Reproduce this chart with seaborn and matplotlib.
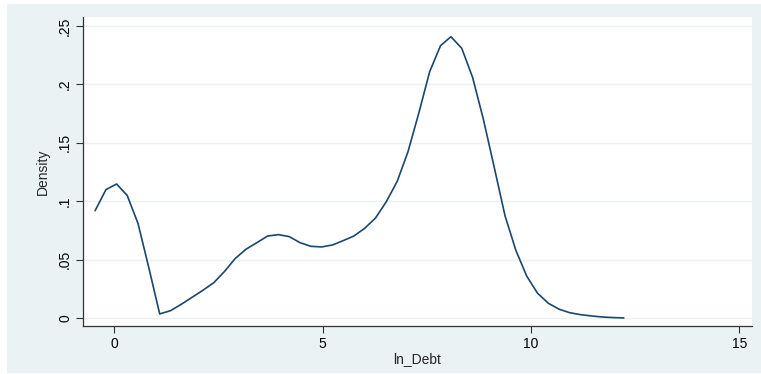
"""
Kernel density of ln_Debt, drawn in the Stata s2color look.
"""

import matplotlib
matplotlib.use("Agg")
import matplotlib.pyplot as plt
from matplotlib.patches import Rectangle
import seaborn as sns


# ---------------------------------------------------------------------------
# Data
# ---------------------------------------------------------------------------

ln_debt = [
    -0.46, -0.20, 0.055, 0.31, 0.57, 0.83, 1.09, 1.35, 1.61, 1.87,
    2.13, 2.39, 2.645, 2.90, 3.16, 3.42, 3.68, 3.94, 4.20, 4.46,
    4.72, 4.98, 5.24, 5.49, 5.75, 6.01, 6.27, 6.53, 6.79, 7.05,
    7.31, 7.57, 7.83, 8.08, 8.34, 8.60, 8.86, 9.12, 9.38, 9.64,
    9.90, 10.16, 10.42, 10.68, 10.93, 11.19, 11.45, 11.71, 11.97, 12.23,
]
density = [
    0.092, 0.110, 0.1148, 0.105, 0.081, 0.043, 0.0037, 0.0065, 0.012, 0.018,
    0.024, 0.0305, 0.040, 0.051, 0.059, 0.0646, 0.0703, 0.0715, 0.0698, 0.0646,
    0.0615, 0.061, 0.0627, 0.0663, 0.0703, 0.0769, 0.0857, 0.0997, 0.117, 0.1424,
    0.1755, 0.2108, 0.233, 0.2407, 0.2308, 0.206, 0.170, 0.129, 0.0875, 0.058,
    0.036, 0.0214, 0.0128, 0.0077, 0.0048, 0.0031, 0.002, 0.0011, 0.0006, 0.0003,
]

x_ticks = [0, 5, 10, 15]
y_ticks = [0, 0.05, 0.10, 0.15, 0.20, 0.25]
y_tick_labels = ["0", ".05", ".1", ".15", ".2", ".25"]

LINE_COLOR = "#1a476f"
BG_COLOR = "#eaf2f3"
GRID_COLOR = "#eaf2f3"


# ---------------------------------------------------------------------------
# Plot
# ---------------------------------------------------------------------------

sns.set_style("white")
plt.rcParams["font.family"] = ["Liberation Sans", "DejaVu Sans"]

fig = plt.figure(figsize=(7.61, 3.74), dpi=100, facecolor="white")
# Stata graph region (slightly inset from the image edge)
fig.patches.append(
    Rectangle((7 / 761, 1 / 374), 754 / 761, 369 / 374,
              transform=fig.transFigure, facecolor=BG_COLOR,
              edgecolor="none", zorder=-10)
)

ax = fig.add_axes([83.3 / 761, 1 - 326 / 374, (751.7 - 83.3) / 761, (326 - 16.7) / 374])
ax.set_facecolor("white")

sns.lineplot(x=ln_debt, y=density, ax=ax, color=LINE_COLOR, linewidth=1.2,
             estimator=None, sort=False)

ax.set_xlim(-0.744, 15.30)
ax.set_ylim(-0.0066, 0.2578)

ax.set_xticks(x_ticks)
ax.set_xticklabels([str(t) for t in x_ticks], fontsize=10)
ax.set_yticks(y_ticks)
ax.set_yticklabels(y_tick_labels, fontsize=10, rotation=90, va="center")

ax.tick_params(axis="both", direction="out", length=5, width=0.8,
               color="#333333", labelcolor="black", pad=3)
ax.tick_params(axis="x", bottom=True)
ax.tick_params(axis="y", left=True)

ax.grid(axis="y", color=GRID_COLOR, linewidth=1.0)
ax.set_axisbelow(True)

for side in ["top", "right"]:
    ax.spines[side].set_visible(False)
for side in ["left", "bottom"]:
    ax.spines[side].set_color("#333333")
    ax.spines[side].set_linewidth(0.9)

ax.set_xlabel("ln_Debt", fontsize=10, labelpad=1)
ax.set_ylabel("Density", fontsize=10, labelpad=6)

fig.savefig("out.png", dpi=100, facecolor="white")
plt.close(fig)
